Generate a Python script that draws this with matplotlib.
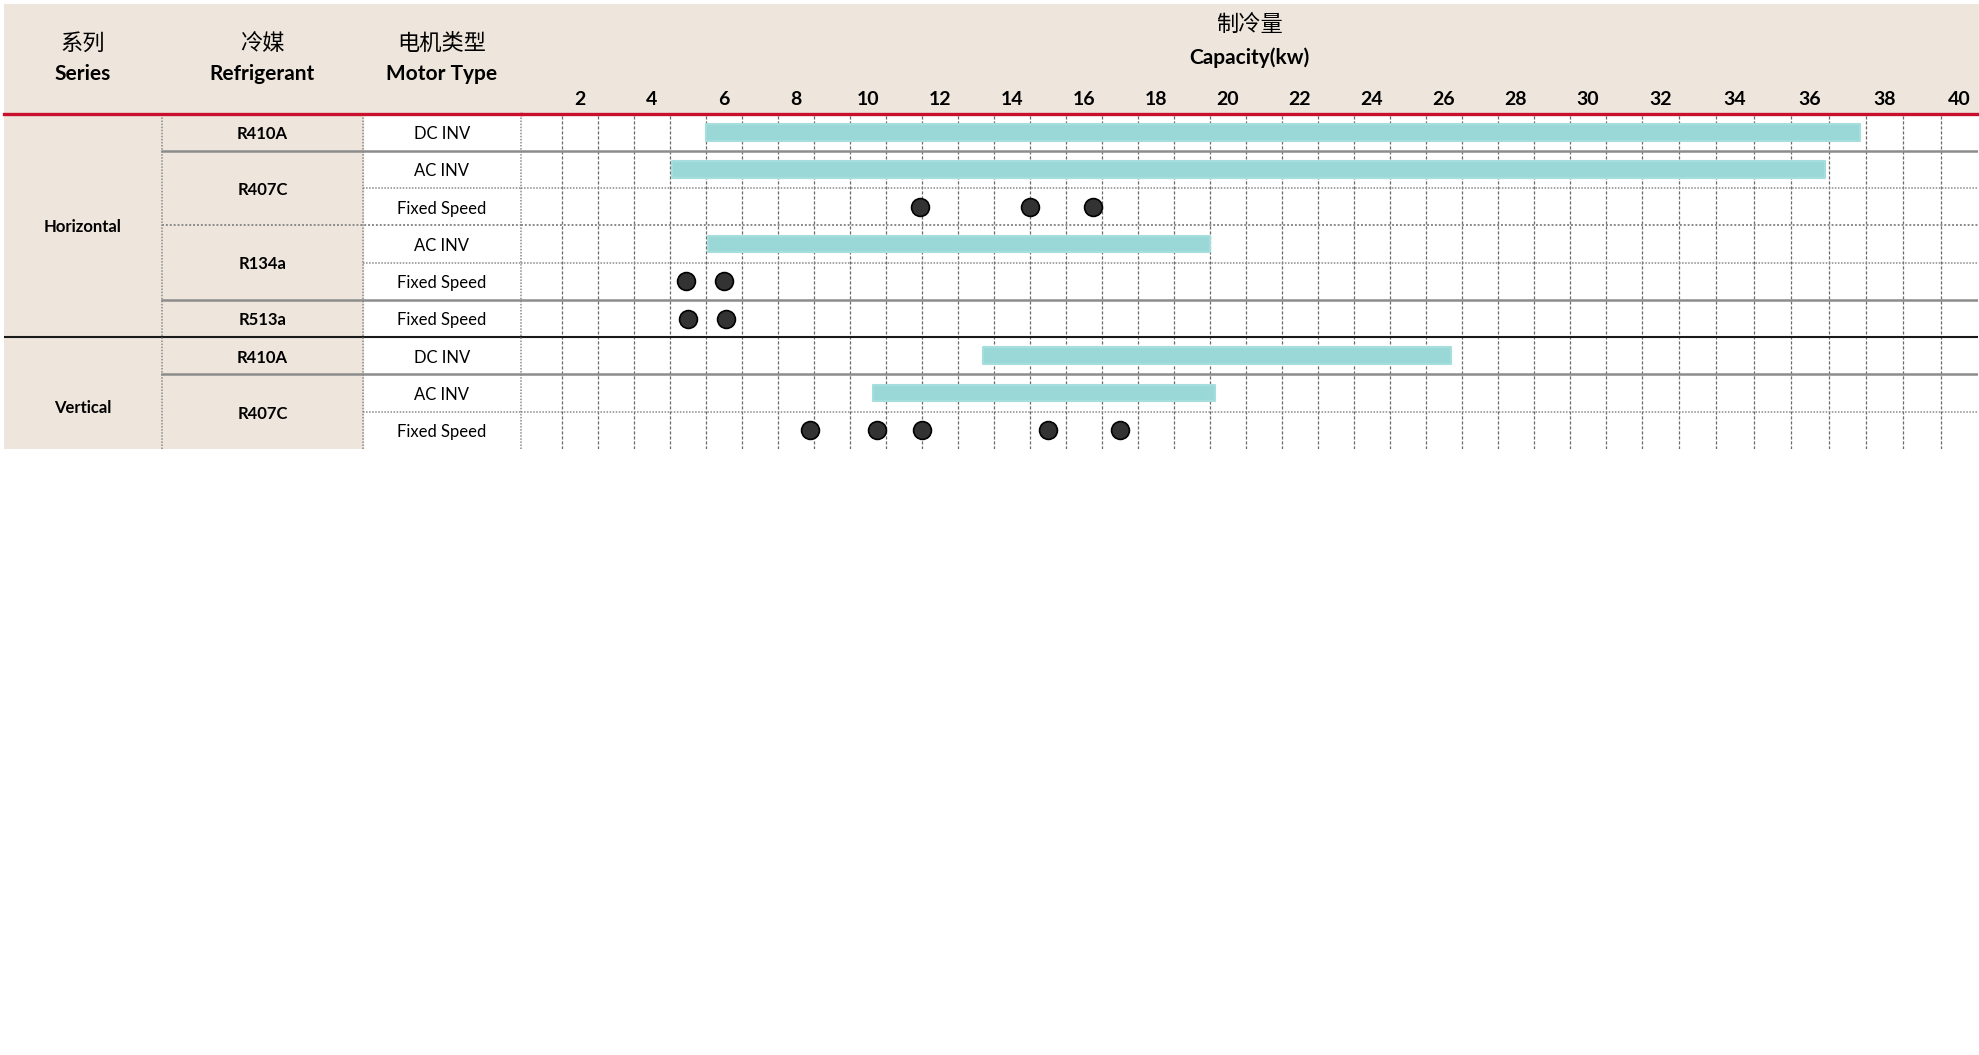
import numpy as np
import matplotlib
matplotlib.use("Agg")
import matplotlib.pyplot as plt
from matplotlib.patches import Rectangle

plt.rcParams['font.family'] = ['Lato', 'Noto Sans CJK SC', 'DejaVu Sans']

# --- data -------------------------------------------------------------
series = ['Horizontal'] * 6 + ['Vertical'] * 3
refrigerants = ['R410A', 'R407C', 'R407C', 'R134a', 'R134a', 'R513a',
                'R410A', 'R407C', 'R407C']
motor_types = ['DC INV', 'AC INV', 'Fixed Speed', 'AC INV', 'Fixed Speed',
               'Fixed Speed', 'DC INV', 'AC INV', 'Fixed Speed']

# capacity ranges (inverter models) -> row index, low, high (kW)
range_rows = [0, 1, 3, 6, 7]
range_low = [5.5, 4.55, 5.55, 13.2, 10.15]
range_high = [37.35, 36.4, 19.5, 26.2, 19.65]

# discrete capacities (fixed speed models)
point_rows = [2, 2, 2, 4, 4, 5, 5, 8, 8, 8, 8, 8]
point_values = [11.45, 14.5, 16.25, 4.95, 6.0, 5.0, 6.05,
                8.4, 10.25, 11.5, 15.0, 17.0]

x_ticks = list(range(2, 41, 2))

# --- style ------------------------------------------------------------
BEIGE = '#eee6dc'
TEAL = '#9ad8d8'
RED = '#c8102e'
DOT = '#333333'

W, H = 1979, 1055
top_px, bot_px = 113.5, 449
tab_l, tab_r, chart_r = 3.6, 520.7, 1978

fig = plt.figure(figsize=(W / 100, H / 100), dpi=100)
fig.patch.set_facecolor('white')

# header background
fig.add_artist(Rectangle((tab_l / W, 1 - top_px / H), 1 - tab_l / W, (top_px - 4) / H,
                         transform=fig.transFigure, facecolor=BEIGE,
                         edgecolor='none', zorder=-1))

ax = fig.add_axes([tab_r / W, 1 - bot_px / H, (chart_r - tab_r) / W, (bot_px - top_px) / H])
tab = fig.add_axes([tab_l / W, 1 - bot_px / H, (tab_r - tab_l) / W, (bot_px - top_px) / H])

n = len(motor_types)
for a in (ax, tab):
    a.set_ylim(n, 0)
    a.set_yticks([])
    for s in a.spines.values():
        s.set_visible(False)

TXT_DY = 0.05  # small nudge so text sits visually centred in the rows

# --- table part -------------------------------------------------------
col_edges = [0, 0.306, 0.695, 1.0]
tab.set_xlim(0, 1)
tab.set_xticks([])
tab.patch.set_alpha(0)
tab.axvspan(0, col_edges[2], color=BEIGE, zorder=0)

centers = [(col_edges[i] + col_edges[i + 1]) / 2 for i in range(3)]


def group_spans(labels, keys):
    spans = []
    start = 0
    for i in range(1, len(labels) + 1):
        if i == len(labels) or keys[i] != keys[start]:
            spans.append((labels[start], start, i))
            start = i
    return spans


ser_keys = series
ref_keys = [s + r for s, r in zip(series, refrigerants)]
for name, a, b in group_spans(series, ser_keys):
    yc = (a + b) / 2 + (0.35 if name == 'Vertical' else 0) + TXT_DY
    tab.text(centers[0], yc, name, ha='center', va='center',
             fontsize=12, fontweight='bold')
for name, a, b in group_spans(refrigerants, ref_keys):
    tab.text(centers[1], (a + b) / 2 + TXT_DY, name, ha='center', va='center',
             fontsize=12, fontweight='bold')
for i, m in enumerate(motor_types):
    tab.text(centers[2], i + 0.5 + TXT_DY, m, ha='center', va='center', fontsize=12)

# column separators
for xe in col_edges[1:]:
    tab.axvline(xe, color='#8a8a8a', lw=1.1, ls=(0, (1, 1)), clip_on=False, zorder=3)

# header texts
hdr_cn = ['系列', '冷媒', '电机类型']
hdr_en = ['Series', 'Refrigerant', 'Motor Type']
for c, cn, en in zip(centers, hdr_cn, hdr_en):
    tab.text(c, 1.21, cn, transform=tab.transAxes, ha='center', va='center',
             fontsize=16, family=['Noto Sans CJK SC'])
    tab.text(c, 1.118, en, transform=tab.transAxes, ha='center', va='center',
             fontsize=15, fontweight='bold')

# --- chart part -------------------------------------------------------
# the sheet's columns are not all the same width: piecewise-linear scale
knots_kw = [0.35, 1.5, 31.5, 40.5]
knots_px = [0.0, 41.0, 1121.0, 1457.3]
ax.set_xscale('function', functions=(lambda v: np.interp(v, knots_kw, knots_px),
                                     lambda p: np.interp(p, knots_px, knots_kw)))
ax.set_xlim(0.35, 40.5)

ax.barh(np.array(range_rows) + 0.5, np.array(range_high) - np.array(range_low),
        left=range_low, height=0.45, color=TEAL, edgecolor='#a6dede',
        linewidth=1.5, joinstyle='round', zorder=3)
ax.scatter(point_values, np.array(point_rows) + 0.5, s=165, color=DOT,
           edgecolor='black', linewidth=1.2, zorder=4)

ax.xaxis.tick_top()
ax.set_xticks(x_ticks)
ax.set_xticklabels([str(t) for t in x_ticks])
ax.set_xticks(np.arange(1.5, 40, 1), minor=True)
ax.xaxis.set_minor_formatter(plt.NullFormatter())
ax.tick_params(axis='x', which='both', length=0)
ax.tick_params(axis='x', which='major', pad=4, labelsize=14)
for lbl in ax.get_xticklabels():
    lbl.set_fontweight('bold')
ax.grid(which='minor', axis='x', color='#6a6a6a', lw=0.9, ls=(0, (2.5, 1.5)))
ax.grid(which='major', visible=False)

ax.text(0.5, 1.264, '制冷量', transform=ax.transAxes, ha='center', va='center',
        fontsize=16, family=['Noto Sans CJK SC'])
ax.text(0.5, 1.166, 'Capacity(kw)', transform=ax.transAxes, ha='center',
        va='center', fontsize=15, fontweight='bold')

# row separators
for b in range(1, n):
    if series[b] != series[b - 1]:
        style = dict(color='#1a1a1a', lw=1.5, ls='-')
        x0 = 0
    elif ref_keys[b] != ref_keys[b - 1]:
        if refrigerants[b - 1] == 'R407C' and refrigerants[b] == 'R134a':
            style = dict(color='#8a8a8a', lw=1.4, ls=(0, (1, 1)))
        else:
            style = dict(color='#8c8c8c', lw=1.8, ls='-')
        x0 = col_edges[1]
    else:
        style = dict(color='#8a8a8a', lw=1.1, ls=(0, (1, 1)))
        x0 = col_edges[2]
    ax.axhline(b, zorder=2, **style)
    tab.axhline(b, xmin=x0, xmax=1, zorder=2, **style)

# red header rule
for a in (ax, tab):
    a.axhline(0, color=RED, lw=2.4, clip_on=False, zorder=5)

fig.savefig('out.png', dpi=100)
